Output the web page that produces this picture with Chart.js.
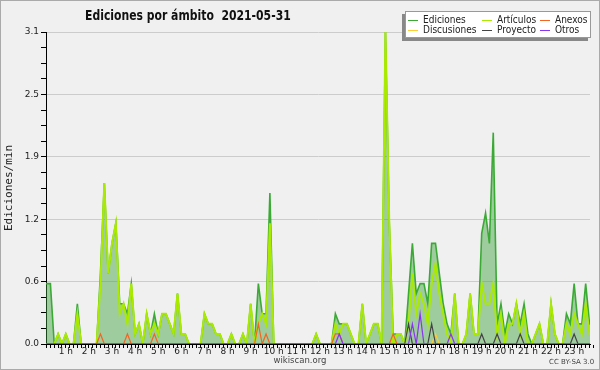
<!DOCTYPE html>
<html>
<head>
<meta charset="utf-8">
<script src="https://cdn.jsdelivr.net/npm/chart.js@4.4.1/dist/chart.umd.min.js"></script>
<style>
  html, body { margin: 0; padding: 0; background: #f0f0f0; }
  #wrap { position: relative; width: 600px; height: 370px; overflow: hidden; font-family: "DejaVu Sans", sans-serif; }
  #frame { position: absolute; left: 0; top: 0; width: 600px; height: 370px; box-sizing: border-box; border: 1px solid #aaa; pointer-events: none; }
  canvas { position: absolute; left: 0; top: 0; }
  #title { position: absolute; left: 85px; top: 7px; font: bold 14px "DejaVu Sans", sans-serif; color: #111; white-space: pre; transform-origin: 0 0; }
  #legend { position: absolute; left: 405px; top: 11px; width: 186px; height: 27px; box-sizing: border-box;
            background: #fff; border: 1px solid #999; box-shadow: -3px 3px 0 #888; }
  .item { position: absolute; font: 10px "DejaVu Sans Condensed", "Liberation Sans", sans-serif; color: #222; line-height: 10px; white-space: nowrap; }
  .item i { position: absolute; left: -15px; top: 5px; width: 10px; height: 1px; }
  #foot { position: absolute; left: 0; width: 600px; top: 355px; text-align: center; font: 8.5px "DejaVu Sans", sans-serif; color: #444; }
  #lic { position: absolute; left: 549px; top: 358px; font: 7px "DejaVu Sans", sans-serif; color: #444; }
</style>
</head>
<body>
<div id="wrap">
  <canvas id="chart" width="600" height="370"></canvas>
  <div id="title">Ediciones por ámbito  2021-05-31</div>
  <div id="legend"></div>
  <div id="foot">wikiscan.org</div>
  <div id="lic">CC BY-SA 3.0</div>
  <div id="frame"></div>
</div>
<script>
// one value per 10-minute slot, 00:00 .. 23:50 (edits per minute)
const ediciones = [
  0.6, 0.6, 0.6, 0, 0.1, 0, 0.1, 0, 0, 0.4, 0, 0,
  0, 0, 0, 0.7, 1.6, 0.7, 1.0, 1.2, 0.4, 0.4, 0.3, 0.6,
  0.1, 0.2, 0, 0.3, 0.1, 0.3, 0.1, 0.3, 0.3, 0.2, 0.1, 0.5,
  0.1, 0.1, 0, 0, 0, 0, 0.3, 0.2, 0.2, 0.1, 0.1, 0,
  0, 0.1, 0, 0, 0.1, 0, 0.4, 0, 0.6, 0.3, 0.3, 1.5,
  0, 0, 0, 0, 0, 0, 0, 0, 0, 0, 0, 0.1,
  0, 0, 0, 0, 0.3, 0.2, 0.2, 0.2, 0.1, 0, 0, 0.4,
  0, 0.1, 0.2, 0.2, 0, 3.1, 1.2, 0.1, 0.1, 0.1, 0, 0.5,
  1.0, 0.5, 0.6, 0.6, 0.4, 1.0, 1.0, 0.7, 0.4, 0.2, 0.1, 0.5,
  0, 0, 0.1, 0.5, 0.1, 0.1, 1.1, 1.3, 1.0, 2.1, 0.2, 0.4,
  0.1, 0.3, 0.2, 0.4, 0.2, 0.4, 0.1, 0, 0.1, 0.2, 0, 0,
  0.4, 0.1, 0, 0, 0.3, 0.2, 0.6, 0.2, 0.2, 0.6, 0.2, 0.2,
];
const articulos = [
  0, 0, 0, 0, 0.1, 0, 0.1, 0, 0, 0.3, 0, 0,
  0, 0, 0, 0.6, 1.6, 0.7, 1.0, 1.2, 0.3, 0.4, 0.2, 0.6,
  0.1, 0.2, 0, 0.3, 0.1, 0.2, 0.1, 0.3, 0.3, 0.2, 0.1, 0.5,
  0.1, 0.1, 0, 0, 0, 0, 0.3, 0.2, 0.2, 0.1, 0.1, 0,
  0, 0.1, 0, 0, 0.1, 0, 0.4, 0, 0.2, 0.3, 0.2, 1.2,
  0, 0, 0, 0, 0, 0, 0, 0, 0, 0, 0, 0.1,
  0, 0, 0, 0, 0.2, 0.1, 0.2, 0.2, 0.1, 0, 0, 0.4,
  0, 0.1, 0.2, 0.2, 0, 3.1, 1.2, 0, 0.1, 0.1, 0, 0.2,
  0.7, 0.3, 0.5, 0.4, 0.2, 0.6, 0.8, 0.5, 0.3, 0.1, 0, 0.5,
  0, 0, 0.1, 0.5, 0.1, 0.1, 0.6, 0.4, 0.4, 0.6, 0.1, 0.3,
  0, 0.2, 0.2, 0.4, 0.1, 0.3, 0, 0, 0.1, 0.2, 0, 0,
  0.4, 0.1, 0, 0, 0.2, 0.1, 0.3, 0.2, 0.1, 0.4, 0.1, 0.1,
];
const anexos = [
  0, 0, 0, 0, 0, 0, 0, 0, 0, 0, 0, 0,
  0, 0, 0, 0.1, 0, 0, 0, 0, 0, 0, 0.1, 0,
  0, 0, 0, 0, 0, 0.1, 0, 0, 0, 0, 0, 0,
  0, 0, 0, 0, 0, 0, 0, 0, 0, 0, 0, 0,
  0, 0, 0, 0, 0, 0, 0, 0, 0.2, 0, 0.1, 0,
  0, 0, 0, 0, 0, 0, 0, 0, 0, 0, 0, 0,
  0, 0, 0, 0, 0.1, 0.1, 0, 0, 0, 0, 0, 0,
  0, 0, 0, 0, 0, 0, 0, 0.1, 0, 0, 0, 0,
  0, 0, 0, 0, 0, 0, 0, 0, 0, 0, 0, 0,
  0, 0, 0, 0, 0, 0, 0, 0, 0, 0, 0, 0,
  0, 0, 0, 0, 0, 0, 0, 0, 0, 0, 0, 0,
  0, 0, 0, 0, 0, 0, 0, 0, 0, 0, 0, 0,
];
const discusiones = [
  0, 0, 0, 0, 0, 0, 0, 0, 0, 0, 0, 0,
  0, 0, 0, 0, 0, 0, 0, 0, 0, 0, 0, 0,
  0, 0, 0, 0, 0, 0, 0, 0, 0, 0, 0, 0,
  0, 0, 0, 0, 0, 0, 0, 0, 0, 0, 0, 0,
  0, 0, 0, 0, 0, 0, 0, 0, 0, 0, 0, 0,
  0, 0, 0, 0, 0, 0, 0, 0, 0, 0, 0, 0,
  0, 0, 0, 0, 0, 0, 0, 0, 0, 0, 0, 0,
  0, 0, 0, 0, 0, 0, 0, 0, 0, 0, 0, 0,
  0, 0, 0, 0, 0, 0, 0.1, 0, 0, 0, 0, 0,
  0, 0, 0, 0, 0, 0, 0, 0, 0, 0, 0, 0,
  0, 0, 0, 0, 0, 0, 0, 0, 0, 0, 0, 0,
  0, 0, 0, 0, 0, 0, 0, 0, 0, 0, 0, 0,
];
const proyecto = [
  0, 0, 0, 0, 0, 0, 0, 0, 0, 0, 0, 0,
  0, 0, 0, 0, 0, 0, 0, 0, 0, 0, 0, 0,
  0, 0, 0, 0, 0, 0, 0, 0, 0, 0, 0, 0,
  0, 0, 0, 0, 0, 0, 0, 0, 0, 0, 0, 0,
  0, 0, 0, 0, 0, 0, 0, 0, 0, 0, 0, 0,
  0, 0, 0, 0, 0, 0, 0, 0, 0, 0, 0, 0,
  0, 0, 0, 0, 0, 0, 0, 0, 0, 0, 0, 0,
  0, 0, 0, 0, 0, 0, 0, 0, 0, 0, 0, 0.2,
  0, 0, 0, 0, 0, 0.2, 0, 0, 0, 0, 0, 0,
  0, 0, 0, 0, 0, 0, 0.1, 0, 0, 0, 0.1, 0,
  0, 0, 0, 0, 0.1, 0, 0, 0, 0, 0, 0, 0,
  0, 0, 0, 0, 0, 0, 0.1, 0, 0, 0, 0, 0,
];
const otros = [
  0, 0, 0, 0, 0, 0, 0, 0, 0, 0, 0, 0,
  0, 0, 0, 0, 0, 0, 0, 0, 0, 0, 0, 0,
  0, 0, 0, 0, 0, 0, 0, 0, 0, 0, 0, 0,
  0, 0, 0, 0, 0, 0, 0, 0, 0, 0, 0, 0,
  0, 0, 0, 0, 0, 0, 0, 0, 0, 0, 0, 0,
  0, 0, 0, 0, 0, 0, 0, 0, 0, 0, 0, 0,
  0, 0, 0, 0, 0, 0.1, 0, 0, 0, 0, 0, 0,
  0, 0, 0, 0, 0, 0, 0, 0, 0, 0, 0, 0,
  0.2, 0, 0.3, 0, 0, 0, 0, 0, 0, 0, 0.1, 0,
  0, 0, 0, 0, 0, 0, 0, 0, 0, 0, 0, 0,
  0, 0, 0, 0, 0, 0, 0, 0, 0, 0, 0, 0,
  0, 0, 0, 0, 0, 0, 0, 0, 0, 0, 0, 0,
];

const slotMinutes = ediciones.map((_, i) => i * 10);
const yMajor = [0, 0.62, 1.24, 1.86, 2.48, 3.1];   // shown as 0.0 0.6 1.2 1.9 2.5 3.1

const series = [
  { name: "Ediciones",   data: ediciones,   color: "#3aaa35", width: 1.6 },
  { name: "Artículos",   data: articulos,   color: "#aaea00", width: 2 },
  { name: "Anexos",      data: anexos,      color: "#f26522", width: 1.2 },
  { name: "Discusiones", data: discusiones, color: "#ffcc33", width: 1.2 },
  { name: "Proyecto",    data: proyecto,    color: "#444444", width: 1.2 },
  { name: "Otros",       data: otros,       color: "#8a35ee", width: 1.2 },
];

// title squeezed to the width it has in the original
const title = document.getElementById("title");
title.style.transform = `scaleX(${206 / title.offsetWidth})`;

// legend box, three columns
const legend = document.getElementById("legend");
const cols = [17, 91, 149];
series.forEach((s, k) => {
  const el = document.createElement("div");
  el.className = "item";
  el.style.left = cols[k % 3] + "px";
  el.style.top = (k < 3 ? 3 : 13) + "px";
  el.innerHTML = `<i style="background:${s.color}"></i>${s.name}`;
  legend.appendChild(el);
});

const xTicks = slotMinutes.filter((m) => m > 0);
const yTicks = [];
yMajor.forEach((v, k) => {
  yTicks.push(v);
  if (k < yMajor.length - 1) {
    const step = (yMajor[k + 1] - v) / 4;
    yTicks.push(v + step, v + 2 * step, v + 3 * step);
  }
});

const tickFont = { family: "DejaVu Sans", size: 9 };

new Chart(document.getElementById("chart"), {
  type: "line",
  data: {
    datasets: series.map((s, k) => ({
      label: s.name,
      data: s.data.map((v, i) => ({ x: slotMinutes[i], y: v })),
      borderColor: s.color,
      backgroundColor: k === 0 ? "rgba(60,160,60,0.45)" : s.color,
      fill: k === 0 ? "origin" : false,
      borderWidth: s.width,
      pointRadius: 0,
      tension: 0,
      order: series.length - k,
    })),
  },
  options: {
    responsive: false,
    animation: false,
    events: [],
    layout: { padding: { top: 32, right: 10, bottom: 0, left: 0 } },
    plugins: { legend: { display: false }, tooltip: { enabled: false } },
    scales: {
      x: {
        type: "linear",
        min: 8.6,
        max: 1421.2,
        z: 1,
        afterBuildTicks: (s) => { s.ticks = xTicks.map((v) => ({ value: v })); },
        afterFit: (s) => { s.height = 26; },
        ticks: {
          autoSkip: false, maxRotation: 0, padding: -2, font: tickFont, color: "#222",
          callback: (v) => (v % 60 === 0 ? v / 60 + " h" : ""),
        },
        grid: { drawOnChartArea: false, tickLength: 4, tickColor: "#000" },
        border: { color: "#000", width: 1 },
      },
      y: {
        min: 0,
        max: 3.1,
        afterBuildTicks: (s) => { s.ticks = yTicks.map((v) => ({ value: v })); },
        afterFit: (s) => { s.width = 46; },
        ticks: {
          padding: 2, font: tickFont, color: "#222",
          callback: (v, i) => (i % 4 === 0 ? v.toFixed(1) : ""),
        },
        grid: {
          color: (c) => (c.index % 4 === 0 ? "#cccccc" : "rgba(0,0,0,0)"),
          tickColor: "#000",
          tickLength: 5,
        },
        border: { color: "#000", width: 1 },
        title: {
          display: true, text: "Ediciones/min", color: "#222",
          font: { family: "DejaVu Sans Mono", size: 11 },
          padding: { top: 3, bottom: 0 },
        },
      },
    },
  },
});
</script>
</body>
</html>
